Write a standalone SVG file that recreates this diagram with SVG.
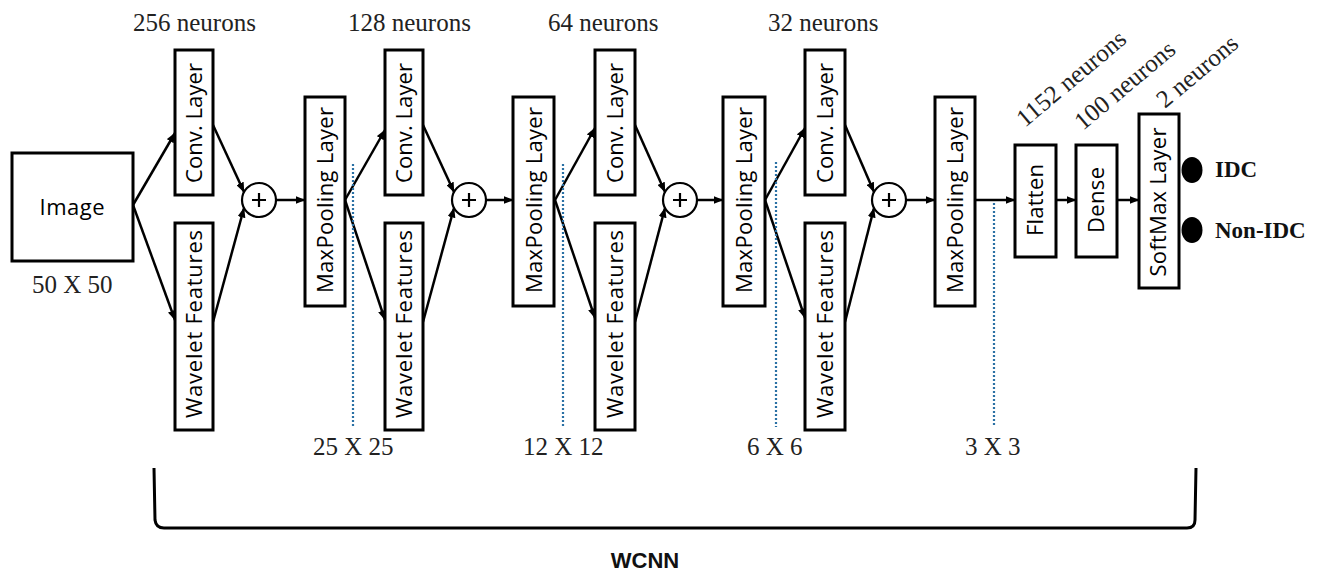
<svg xmlns="http://www.w3.org/2000/svg" width="1327" height="572" viewBox="0 0 1327 572">
  <defs>
    <marker id="arrow" markerUnits="userSpaceOnUse" markerWidth="10" markerHeight="8" refX="9.5" refY="4" orient="auto">
      <path d="M0,0 L10,4 L0,8 z" fill="#000"/>
    </marker>
    <style>
      .box { fill: #fff; stroke: #000; stroke-width: 3; }
      .lbl { font-family: "Open Sans", Lato, "Liberation Sans", sans-serif; font-size: 22px; font-weight: 500; fill: #000; text-anchor: middle; }
      .serif { font-family: "Liberation Serif", "Times New Roman", serif; font-size: 25px; fill: #222; }
      .out { font-family: "Liberation Serif", "Times New Roman", serif; font-size: 23px; font-weight: bold; fill: #111; }
      .edge { fill: none; stroke: #000; stroke-width: 2.5; marker-end: url(#arrow); }
      .plus { fill: #fff; stroke: #000; stroke-width: 2.2; }
      .plussign { stroke: #000; stroke-width: 2.2; }
      .dots { stroke: #2a70a4; stroke-width: 2.2; stroke-dasharray: 2 2; }
    </style>
  </defs>
  <rect width="1327" height="572" fill="#fff"/>

  <!-- connectors -->
  <g id="connectors">
    <path class="edge" d="M133,205 L175,133"/>
    <path class="edge" d="M133,205 L175,320"/>
    <path class="edge" d="M213,125 L244,192"/>
    <path class="edge" d="M213,322 L244,208"/>
    <path class="edge" d="M276,200 L305,200"/>

    <path class="edge" d="M345,200 L385,130"/>
    <path class="edge" d="M345,200 L385,320"/>
    <path class="edge" d="M423,125 L454,192"/>
    <path class="edge" d="M423,322 L454,208"/>
    <path class="edge" d="M486,200 L513,200"/>

    <path class="edge" d="M555,200 L595,128"/>
    <path class="edge" d="M555,200 L595,318"/>
    <path class="edge" d="M635,125 L665,192"/>
    <path class="edge" d="M635,322 L665,208"/>
    <path class="edge" d="M697,200 L723,200"/>

    <path class="edge" d="M765,200 L805,128"/>
    <path class="edge" d="M765,200 L805,318"/>
    <path class="edge" d="M845,125 L874,192"/>
    <path class="edge" d="M845,322 L874,208"/>
    <path class="edge" d="M906,200 L935,200"/>

    <path class="edge" d="M975,200 L1015,200"/>
    <path class="edge" d="M1056,200 L1076,200"/>
    <path class="edge" d="M1117,200 L1139,200"/>
  </g>

  <!-- feature-map size guides -->
  <g id="size-guides">
    <line class="dots" x1="353" y1="164" x2="353" y2="427"/>
    <line class="dots" x1="563" y1="164" x2="563" y2="427"/>
    <line class="dots" x1="776" y1="162" x2="776" y2="427"/>
    <line class="dots" x1="994" y1="203" x2="994" y2="427"/>
  </g>

  <!-- input -->
  <g id="image">
    <rect class="box" x="12" y="153" width="121" height="108"/>
    <text class="lbl" x="72" y="215" textLength="65">Image</text>
  </g>

  <!-- block 1 -->
  <g id="conv1">
    <rect class="box" x="175" y="50" width="38" height="145"/>
    <text class="lbl" transform="translate(202,123) rotate(-90)" textLength="120">Conv. Layer</text>
  </g>
  <g id="wavelet1">
    <rect class="box" x="175" y="223" width="38" height="207"/>
    <text class="lbl" transform="translate(202,324) rotate(-90)" textLength="188">Wavelet Features</text>
  </g>
  <g id="add1">
    <circle class="plus" cx="259" cy="200" r="17"/>
    <path class="plussign" d="M252,200 H266 M259,193 V207"/>
  </g>
  <g id="pool1">
    <rect class="box" x="305" y="97" width="40" height="209"/>
    <text class="lbl" transform="translate(333,200) rotate(-90)" textLength="186">MaxPooling Layer</text>
  </g>

  <!-- block 2 -->
  <g id="conv2">
    <rect class="box" x="385" y="50" width="38" height="145"/>
    <text class="lbl" transform="translate(412,123) rotate(-90)" textLength="120">Conv. Layer</text>
  </g>
  <g id="wavelet2">
    <rect class="box" x="385" y="223" width="38" height="207"/>
    <text class="lbl" transform="translate(412,324) rotate(-90)" textLength="188">Wavelet Features</text>
  </g>
  <g id="add2">
    <circle class="plus" cx="469" cy="200" r="17"/>
    <path class="plussign" d="M462,200 H476 M469,193 V207"/>
  </g>
  <g id="pool2">
    <rect class="box" x="513" y="97" width="41" height="209"/>
    <text class="lbl" transform="translate(542,200) rotate(-90)" textLength="186">MaxPooling Layer</text>
  </g>

  <!-- block 3 -->
  <g id="conv3">
    <rect class="box" x="595" y="50" width="40" height="145"/>
    <text class="lbl" transform="translate(623,123) rotate(-90)" textLength="120">Conv. Layer</text>
  </g>
  <g id="wavelet3">
    <rect class="box" x="595" y="223" width="40" height="207"/>
    <text class="lbl" transform="translate(623,324) rotate(-90)" textLength="188">Wavelet Features</text>
  </g>
  <g id="add3">
    <circle class="plus" cx="680" cy="200" r="17"/>
    <path class="plussign" d="M673,200 H687 M680,193 V207"/>
  </g>
  <g id="pool3">
    <rect class="box" x="723" y="97" width="42" height="209"/>
    <text class="lbl" transform="translate(752,200) rotate(-90)" textLength="186">MaxPooling Layer</text>
  </g>

  <!-- block 4 -->
  <g id="conv4">
    <rect class="box" x="805" y="50" width="40" height="145"/>
    <text class="lbl" transform="translate(833,123) rotate(-90)" textLength="120">Conv. Layer</text>
  </g>
  <g id="wavelet4">
    <rect class="box" x="805" y="223" width="40" height="207"/>
    <text class="lbl" transform="translate(833,324) rotate(-90)" textLength="188">Wavelet Features</text>
  </g>
  <g id="add4">
    <circle class="plus" cx="889" cy="200" r="17"/>
    <path class="plussign" d="M882,200 H896 M889,193 V207"/>
  </g>
  <g id="pool4">
    <rect class="box" x="935" y="97" width="40" height="209"/>
    <text class="lbl" transform="translate(963,200) rotate(-90)" textLength="186">MaxPooling Layer</text>
  </g>

  <!-- classifier head -->
  <g id="flatten">
    <rect class="box" x="1015" y="145" width="41" height="112"/>
    <text class="lbl" transform="translate(1043,200) rotate(-90)" textLength="72">Flatten</text>
  </g>
  <g id="dense">
    <rect class="box" x="1076" y="145" width="41" height="112"/>
    <text class="lbl" transform="translate(1104,200) rotate(-90)" textLength="66">Dense</text>
  </g>
  <g id="softmax">
    <rect class="box" x="1139" y="114" width="40" height="174"/>
    <text class="lbl" transform="translate(1166,202) rotate(-90)" textLength="149">SoftMax Layer</text>
  </g>
  <g id="out-idc">
    <ellipse cx="1192" cy="170" rx="10.5" ry="13" fill="#000"/>
    <text class="out" x="1215" y="177">IDC</text>
  </g>
  <g id="out-nonidc">
    <ellipse cx="1192" cy="230" rx="10.5" ry="13" fill="#000"/>
    <text class="out" x="1215" y="238">Non-IDC</text>
  </g>

  <!-- layer widths -->
  <g id="neuron-labels">
    <text class="serif" x="133" y="31">256 neurons</text>
    <text class="serif" x="348" y="31">128 neurons</text>
    <text class="serif" x="548" y="31">64 neurons</text>
    <text class="serif" x="768" y="31">32 neurons</text>
    <text class="serif" transform="translate(1025,128) rotate(-40)">1152 neurons</text>
    <text class="serif" transform="translate(1083,131) rotate(-40)">100 neurons</text>
    <text class="serif" transform="translate(1165,109) rotate(-40)">2 neurons</text>
  </g>

  <!-- spatial sizes -->
  <g id="size-labels">
    <text class="serif" x="32" y="293">50 X 50</text>
    <text class="serif" x="313" y="455">25 X 25</text>
    <text class="serif" x="523" y="455">12 X 12</text>
    <text class="serif" x="747" y="455">6 X 6</text>
    <text class="serif" x="965" y="455">3 X 3</text>
  </g>

  <!-- model bracket -->
  <g id="wcnn">
    <path d="M154,468 L155,520 Q156,528 164,528 L1187,528 Q1195,528 1195,520 L1196,468" fill="none" stroke="#000" stroke-width="3"/>
    <text x="645" y="568" font-family="Liberation Sans, Arial, sans-serif" font-size="22" font-weight="bold" text-anchor="middle" fill="#111">WCNN</text>
  </g>
</svg>
